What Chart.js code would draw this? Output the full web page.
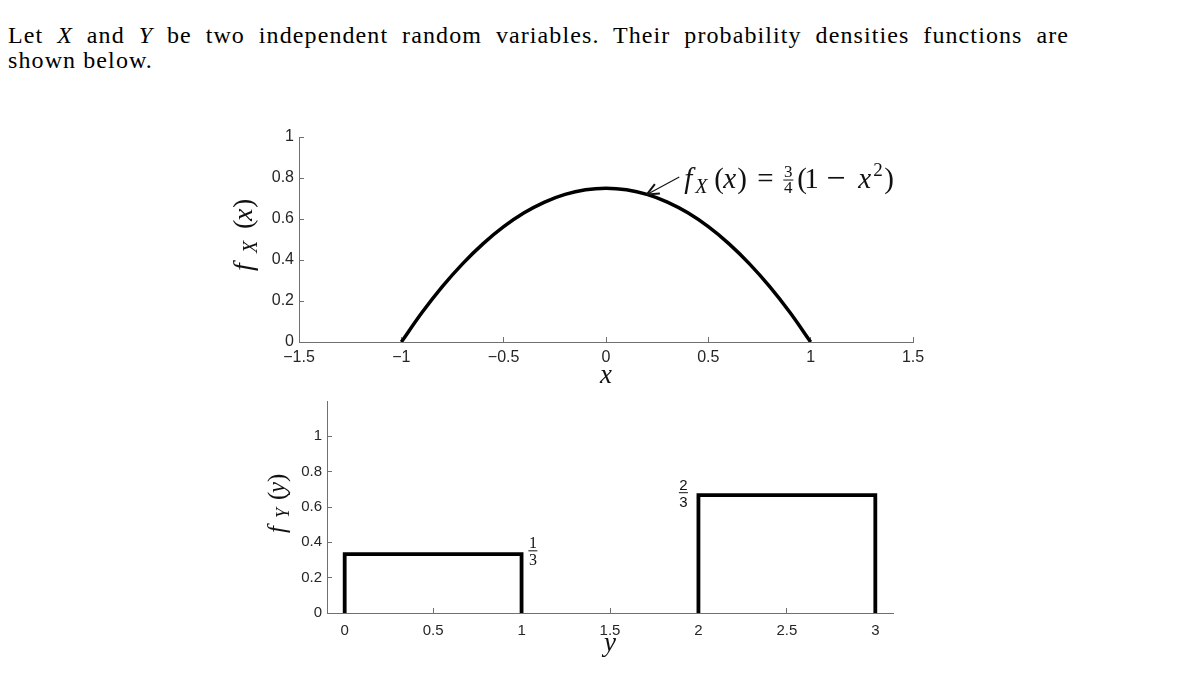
<!DOCTYPE html>
<html><head><meta charset="utf-8">
<script src="https://cdn.jsdelivr.net/npm/chart.js@4.4.1/dist/chart.umd.min.js"></script>
<style>
html,body{margin:0;padding:0;background:#fff;width:1191px;height:680px;overflow:hidden;position:relative}
.tl{position:absolute;left:8px;width:1061px;font-family:"Liberation Serif",serif;font-size:24px;letter-spacing:1.1px;line-height:25px;color:#000}
#l1{top:23px;text-align:justify;text-align-last:justify}
#l2{top:48px;text-align:left}
canvas{position:absolute}
#c1{left:180px;top:110px}
#c2{left:200px;top:390px}
</style></head><body>
<div class="tl" id="l1">Let <i>X</i> and <i>Y</i> be two independent random variables. Their probability densities functions are</div>
<div class="tl" id="l2">shown below.</div>
<canvas id="c1" width="780" height="290"></canvas>
<canvas id="c2" width="760" height="290"></canvas>
<script>
// ---- data ----
const fxX = [-1,-0.9,-0.8,-0.7,-0.6,-0.5,-0.4,-0.3,-0.2,-0.1,0,0.1,0.2,0.3,0.4,0.5,0.6,0.7,0.8,0.9,1];
const fxY = [0,0.1425,0.27,0.3825,0.48,0.5625,0.63,0.6825,0.72,0.7425,0.75,0.7425,0.72,0.6825,0.63,0.5625,0.48,0.3825,0.27,0.1425,0];
const fyX1 = [0,0,1,1];
const fyY1 = [0,1/3,1/3,0];
const fyX2 = [2,2,3,3];
const fyY2 = [0,2/3,2/3,0];
const topXTicks = [-1.5,-1,-0.5,0,0.5,1,1.5];
const topXTickLabels = ['\u22121.5','\u22121','\u22120.5','0','0.5','1','1.5'];
const topYTicks = [0,0.2,0.4,0.6,0.8,1];
const topYTickLabels = ['0','0.2','0.4','0.6','0.8','1'];
const botXTicks = [0,0.5,1,1.5,2,2.5,3];
const botXTickLabels = ['0','0.5','1','1.5','2','2.5','3'];
const botYTicks = [0,0.2,0.4,0.6,0.8,1];
const botYTickLabels = ['0','0.2','0.4','0.6','0.8','1'];
// annotation anchors (data space)
const arrowTip = [0.2, 0.72];
const arrowTail = [0.358, 0.805];
const fxLabelAt = [0.368, 0.751];
const oneThirdAt = [1.064, 0.352];
const twoThirdsAt = [1.915, 0.681];

// ---- text helpers ----
const SERIF = '"Liberation Serif", serif';
const SANS = '"Liberation Sans", Arial, sans-serif';
function drawGlyphs(ctx, glyphs, x0, y0){
  glyphs.forEach(g => {
    if (g.bar){
      ctx.beginPath(); ctx.lineWidth = 1; ctx.strokeStyle = '#111';
      ctx.moveTo(x0 + g.bar[0], y0 + g.dy); ctx.lineTo(x0 + g.bar[1], y0 + g.dy); ctx.stroke();
      return;
    }
    ctx.font = (g.it ? 'italic ' : '') + g.s + 'px ' + (g.f || SERIF);
    ctx.textAlign = g.c ? 'center' : 'left';
    ctx.textBaseline = 'alphabetic';
    ctx.fillStyle = '#111';
    ctx.fillText(g.t, x0 + g.dx, y0 + (g.dy || 0));
  });
}
const fxLabelGlyphs = [
  {t:'f',it:1,s:29,dx:3},
  {t:'X',it:1,s:20,dx:14,dy:5},
  {t:'(',s:29,dx:33},
  {t:'x',it:1,s:29,dx:42},
  {t:')',s:29,dx:56},
  {t:'=',s:29,dx:76},
  {t:'3',s:17,dx:107,dy:-11,c:1},
  {bar:[102,112],dy:-8},
  {t:'4',s:17,dx:107,dy:5,c:1},
  {t:'(',s:29,dx:116},
  {t:'1',s:29,dx:123},
  {t:'\u2212',s:34,dx:145,dy:1},
  {t:'x',it:1,s:29,dx:177},
  {t:'2',s:19,dx:192,dy:-12},
  {t:')',s:29,dx:203}
];
const topYTitleGlyphs = [
  {t:'f',it:1,s:28,dx:6},
  {t:'X',it:1,s:20,dx:24,dy:5},
  {t:'(',s:28,dx:48},
  {t:'x',it:1,s:28,dx:56},
  {t:')',s:28,dx:69}
];
const botYTitleGlyphs = [
  {t:'f',it:1,s:25,dx:5},
  {t:'Y',it:1,s:18,dx:20,dy:4},
  {t:'(',s:25,dx:38},
  {t:'y',it:1,s:25,dx:45},
  {t:')',s:25,dx:56}
];
const oneThirdGlyphs = [
  {t:'1',s:16,dx:0,dy:-2.5,c:1},
  {bar:[-4.5,4.5],dy:0},
  {t:'3',s:16,dx:0,dy:14,c:1}
];
const twoThirdsGlyphs = [
  {t:'2',s:15,dx:0,dy:-2.5,c:1,f:SANS},
  {bar:[-4.5,4.5],dy:0},
  {t:'3',s:15,dx:0,dy:14.5,c:1,f:SANS}
];

function drawRotated(ctx, glyphs, cx, cy, halfLen){
  ctx.save();
  ctx.translate(cx, cy);
  ctx.rotate(-Math.PI/2);
  drawGlyphs(ctx, glyphs, -halfLen, 0);
  ctx.restore();
}

const topAnnot = {
  id:'topAnnot',
  afterDraw(chart){
    const {ctx, chartArea} = chart;
    const x = chart.scales.x, y = chart.scales.y;
    ctx.save();
    const tx = x.getPixelForValue(arrowTip[0]), ty = y.getPixelForValue(arrowTip[1]);
    const sx = x.getPixelForValue(arrowTail[0]), sy = y.getPixelForValue(arrowTail[1]);
    ctx.strokeStyle = '#111'; ctx.lineWidth = 1.1;
    ctx.beginPath(); ctx.moveTo(sx, sy); ctx.lineTo(tx, ty); ctx.stroke();
    const ang = Math.atan2(sy - ty, sx - tx);
    const L = 13, a = 0.42;
    ctx.lineWidth = 2;
    ctx.lineJoin = 'miter';
    ctx.beginPath();
    ctx.moveTo(tx + L*Math.cos(ang + a), ty + L*Math.sin(ang + a));
    ctx.lineTo(tx, ty);
    ctx.lineTo(tx + L*Math.cos(ang - a), ty + L*Math.sin(ang - a));
    ctx.stroke();
    drawGlyphs(ctx, fxLabelGlyphs, x.getPixelForValue(fxLabelAt[0]), y.getPixelForValue(fxLabelAt[1]));
    drawRotated(ctx, topYTitleGlyphs, chartArea.left - 47, (chartArea.top + chartArea.bottom)/2 - 1, 38.5);
    ctx.restore();
  }
};
const botAnnot = {
  id:'botAnnot',
  afterDraw(chart){
    const {ctx, chartArea} = chart;
    const x = chart.scales.x, y = chart.scales.y;
    ctx.save();
    drawGlyphs(ctx, oneThirdGlyphs, x.getPixelForValue(oneThirdAt[0]), y.getPixelForValue(oneThirdAt[1]));
    drawGlyphs(ctx, twoThirdsGlyphs, x.getPixelForValue(twoThirdsAt[0]), y.getPixelForValue(twoThirdsAt[1]));
    drawRotated(ctx, botYTitleGlyphs, chartArea.left - 42.5, (chartArea.top + chartArea.bottom)/2, 31);
    ctx.restore();
  }
};

const AXIS = '#707070';
function axisOpts(ticksArr, labelsArr, fontSize, pad, extra){
  return Object.assign({
    type:'linear',
    afterBuildTicks: s => { s.ticks = ticksArr.map(v => ({value: v})); },
    ticks:{
      callback: v => labelsArr[ticksArr.indexOf(v)],
      font:{family:'"Liberation Sans", Arial, sans-serif', size:fontSize},
      color:'#262626', padding:pad, maxRotation:0, autoSkip:false
    },
    grid:{drawOnChartArea:false, drawTicks:true, tickLength:-5, color:AXIS, lineWidth:1},
    border:{display:true, color:AXIS, width:1}
  }, extra);
}

new Chart(document.getElementById('c1'), {
  type:'line',
  data:{datasets:[{
    data: fxX.map((v,i) => ({x:v, y:fxY[i]})),
    borderColor:'#000', borderWidth:3.5, pointRadius:0, fill:false,
    cubicInterpolationMode:'monotone', borderCapStyle:'butt', borderJoinStyle:'round'
  }]},
  options:{
    responsive:false, animation:false, devicePixelRatio:1,
    layout:{padding:{top:27, right:47, bottom:8, left:0}},
    plugins:{legend:{display:false}, tooltip:{enabled:false}},
    scales:{
      x: axisOpts(topXTicks, topXTickLabels, 16, 11, {
        min:-1.5, max:1.5, position:'bottom',
        title:{display:true, text:'x', color:'#111', font:{family:SERIF, size:27, style:'italic'}, padding:{top:0,bottom:0}},
        afterFit: s => { s.height = 50; s.paddingLeft = 0; s.paddingRight = 0; }
      }),
      y: axisOpts(topYTicks, topYTickLabels, 16, 10, {
        min:0, max:1, position:'left',
        afterFit: s => { s.width = 119; s.paddingTop = 0; s.paddingBottom = 0; }
      })
    }
  },
  plugins:[topAnnot]
});

const stepStyle = {borderColor:'#000', borderWidth:3.8, pointRadius:0, fill:false, tension:0, borderCapStyle:'butt', borderJoinStyle:'miter'};
new Chart(document.getElementById('c2'), {
  type:'line',
  data:{datasets:[
    Object.assign({data: fyX1.map((v,i) => ({x:v, y:fyY1[i]}))}, stepStyle),
    Object.assign({data: fyX2.map((v,i) => ({x:v, y:fyY2[i]}))}, stepStyle)
  ]},
  options:{
    responsive:false, animation:false, devicePixelRatio:1,
    layout:{padding:{top:11, right:67, bottom:12, left:0}},
    plugins:{legend:{display:false}, tooltip:{enabled:false}},
    scales:{
      x: axisOpts(botXTicks, botXTickLabels, 15, 13.5, {
        min:-0.1, max:3.1, position:'bottom',
        title:{display:true, text:'y', color:'#111', font:{family:SERIF, size:27, style:'italic'}, padding:{top:0,bottom:8}},
        afterFit: s => { s.height = 55; s.paddingLeft = 0; s.paddingRight = 0; }
      }),
      y: axisOpts(botYTicks, botYTickLabels, 15, 10, {
        min:0, max:1.2, position:'left',
        afterFit: s => { s.width = 127; s.paddingTop = 0; s.paddingBottom = 0; }
      })
    }
  },
  plugins:[botAnnot]
});
</script>
</body></html>
